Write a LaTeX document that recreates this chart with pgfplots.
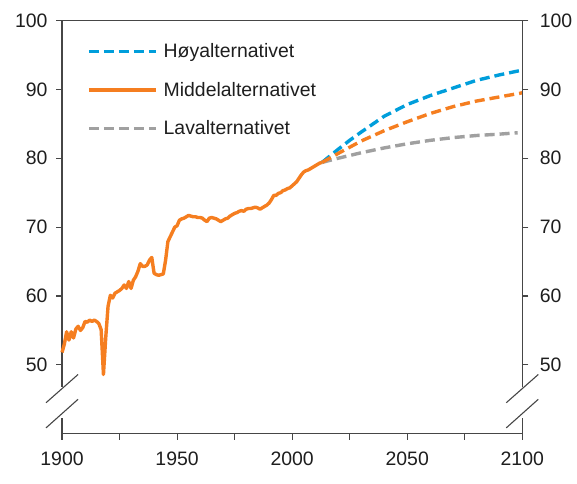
\documentclass[border=0pt]{standalone}
\usepackage{pgfplots}
\pgfplotsset{compat=1.18}
\usepackage{fontspec}
\setmainfont{Liberation Sans}

\definecolor{hoy}{RGB}{0,158,219}
\definecolor{mid}{RGB}{245,126,32}
\definecolor{lav}{RGB}{160,160,160}
\definecolor{axisgray}{RGB}{70,70,70}
\definecolor{txt}{RGB}{30,30,30}

\newcommand{\lblfont}{\fontsize{19.5}{22}\selectfont}

% forventet levealder, historisk
\pgfplotstableread{
year val
1900 51.8
1901 53.0
1902 54.8
1903 53.6
1904 54.8
1905 53.9
1906 55.2
1907 55.6
1908 55.0
1909 55.4
1910 56.3
1911 56.2
1912 56.5
1913 56.3
1914 56.5
1915 56.3
1916 56.0
1917 55.1
1918 48.6
1919 54.0
1920 58.5
1921 60.1
1922 59.7
1923 60.4
1924 60.6
1925 60.8
1926 61.1
1927 61.6
1928 61.1
1929 62.1
1930 61.1
1931 62.3
1932 62.8
1933 63.6
1934 64.7
1935 64.3
1936 64.3
1937 64.5
1938 65.2
1939 65.6
1940 63.3
1941 63.1
1942 63.0
1943 63.1
1944 63.2
1945 65.2
1946 67.9
1947 68.6
1948 69.3
1949 70.0
1950 70.2
1951 71.0
1952 71.2
1953 71.3
1954 71.5
1955 71.7
1956 71.6
1957 71.5
1958 71.5
1959 71.4
1960 71.4
1961 71.3
1962 71.0
1963 70.8
1964 71.3
1965 71.4
1966 71.3
1967 71.2
1968 71.0
1969 70.8
1970 71.0
1971 71.2
1972 71.3
1973 71.6
1974 71.8
1975 72.0
1976 72.1
1977 72.3
1978 72.4
1979 72.3
1980 72.6
1981 72.7
1982 72.7
1983 72.8
1984 72.9
1985 72.8
1986 72.6
1987 72.8
1988 73.0
1989 73.2
1990 73.5
1991 74.0
1992 74.6
1993 74.6
1994 74.9
1995 75.0
1996 75.3
1997 75.4
1998 75.6
1999 75.7
2000 76.0
2001 76.3
2002 76.6
2003 77.1
2004 77.6
2005 78.0
2006 78.2
2007 78.3
2008 78.5
2009 78.7
2010 78.9
2011 79.1
2012 79.3
2013 79.4
}\hist

\pgfplotstableread{
year val
2013 79.4
2020 81.3
2025 82.6
2030 83.8
2040 86.1
2050 87.8
2060 89.1
2070 90.2
2080 91.3
2090 92.1
2100 92.8
}\hoyalt

\pgfplotstableread{
year val
2013 79.4
2020 80.7
2030 82.5
2040 84.0
2050 85.3
2060 86.5
2070 87.5
2080 88.3
2090 88.9
2100 89.5
}\midalt

\pgfplotstableread{
year val
2013 79.4
2020 80.0
2030 80.8
2040 81.5
2050 82.1
2060 82.6
2070 83.0
2080 83.3
2090 83.5
2098 83.7
}\lavalt

\begin{document}
\begin{tikzpicture}
\path[use as bounding box] (-62bp,-49.7bp) rectangle (514.7bp,433.5bp);

\pgfplotsset{
  felles/.style={
    at={(0,0)}, anchor=south west,
    scale only axis,
    width=460bp, height=413bp,
    xmin=1900, xmax=2100,
    ymin=40, ymax=100,
    ytick={50,60,...,100},
    tick align=outside,
    major tick length=6bp,
    minor tick length=6bp,
    every tick/.style={axisgray, line width=1.1pt},
    axis line style={axisgray, line width=1.1pt},
    tick label style={font=\lblfont, text=txt},
    /pgf/number format/assume math mode=true,
    /pgf/number format/1000 sep={},
  }
}

\begin{axis}[
  felles,
  axis lines=box,
  xtick pos=bottom,
  ytick pos=left,
  xtick={1900,1950,...,2100},
  minor xtick={1925,1975,2025,2075},
  xticklabel style={yshift=-9bp},
  yticklabel style={xshift=-5bp},
  clip=false,
  legend cell align=left,
  legend style={
    draw=none, fill=none,
    at={(0,1)}, anchor=north west,
    xshift=22bp, yshift=-19bp,
    font=\lblfont, text=txt,
    row sep=19bp,
    /tikz/every odd column/.style={column sep=4bp},
  },
  legend image code/.code={\draw[#1] (0bp,0bp) -- (67bp,0bp);},
]
\addplot[hoy, line width=3.4bp, dash pattern=on 10bp off 5bp] table[x=year,y=val] {\hoyalt};
\addlegendentry{Høyalternativet}
\addplot[mid, line width=3.4bp, line join=round] table[x=year,y=val] {\hist};
\addlegendentry{Middelalternativet}
\addplot[lav, line width=3.4bp, dash pattern=on 10bp off 5bp] table[x=year,y=val] {\lavalt};
\addlegendentry{Lavalternativet}
\addplot[mid, line width=3.4bp, dash pattern=on 10bp off 5bp, forget plot] table[x=year,y=val] {\midalt};

\coordinate (gapL1) at (axis cs:1900,46.8);
\coordinate (gapL2) at (axis cs:1900,42.25);
\coordinate (gapR1) at (axis cs:2100,46.8);
\coordinate (gapR2) at (axis cs:2100,42.25);
\coordinate (aL) at (axis cs:1900,44.5);
\coordinate (bL) at (axis cs:1900,48.6);
\coordinate (cL) at (axis cs:1900,40.85);
\coordinate (dL) at (axis cs:1900,45.0);
\coordinate (aR) at (axis cs:2100,44.5);
\coordinate (bR) at (axis cs:2100,48.6);
\coordinate (cR) at (axis cs:2100,40.85);
\coordinate (dR) at (axis cs:2100,45.0);
\end{axis}

\begin{axis}[
  felles,
  axis x line=none,
  axis y line*=right,
  yticklabel style={xshift=8bp},
]
\end{axis}

% brudd i y-aksen
\fill[white] ([xshift=-3bp]gapL2) rectangle ([xshift=3bp]gapL1);
\fill[white] ([xshift=-3bp]gapR2) rectangle ([xshift=3bp]gapR1);
\foreach \s in {L,R} {
  \draw[axisgray, line width=1.1pt] ([xshift=-16bp]a\s) -- ([xshift=16bp]b\s);
  \draw[axisgray, line width=1.1pt] ([xshift=-16bp]c\s) -- ([xshift=16bp]d\s);
}
\end{tikzpicture}
\end{document}
